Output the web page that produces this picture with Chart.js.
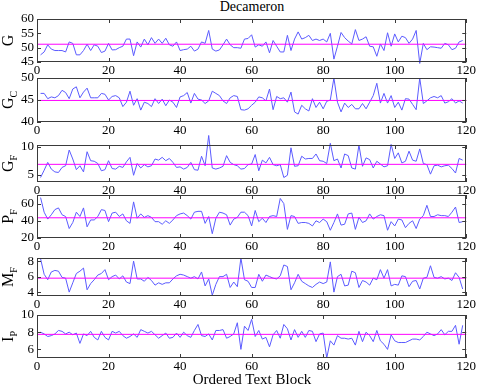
<!DOCTYPE html>
<html><head><meta charset="utf-8">
<script src="https://cdn.jsdelivr.net/npm/chart.js@4.4.0/dist/chart.umd.min.js"></script>
<style>
html,body{margin:0;padding:0;background:#fff;}
#wrap{position:relative;width:477px;height:391px;overflow:hidden;background:#fff;}
#wrap canvas{position:absolute;left:0;}
.txt{position:absolute;font-family:"Liberation Serif","Times New Roman",serif;color:#000;white-space:nowrap;transform:translateX(-50%);}
</style></head>
<body>
<div id="wrap">
<div class="txt" id="title" style="left:252px;top:-1px;font-size:14px;">Decameron</div>
<canvas id="c1"></canvas><canvas id="c2"></canvas><canvas id="c3"></canvas>
<canvas id="c4"></canvas><canvas id="c5"></canvas><canvas id="c6"></canvas>
<div class="txt" id="xtitle" style="left:252px;top:371px;font-size:15px;">Ordered Text Block</div>
</div>
<script>
const blocks = [1,2,3,4,5,6,7,8,9,10,11,12,13,14,15,16,17,18,19,20,21,22,23,24,25,26,27,28,29,30,31,32,33,34,35,36,37,38,39,40,41,42,43,44,45,46,47,48,49,50,51,52,53,54,55,56,57,58,59,60,61,62,63,64,65,66,67,68,69,70,71,72,73,74,75,76,77,78,79,80,81,82,83,84,85,86,87,88,89,90,91,92,93,94,95,96,97,98,99,100,101,102,103,104,105,106,107,108,109,110,111,112,113,114,115,116,117,118,119];
const xTickValues = [0,20,40,60,80,100,120];

const gValues = [47.5,48.5,51,49.5,49,49,49,48.5,52,51.5, 47.5,47.5,49,51.2,49,51,50.5,48.3,48.8,51.5, 49.2,49.3,50,50.5,53,53,47.2,52,50.2,53, 51,53.5,51.5,53,51.5,53.3,51,50.5,52,49, 49.3,49.5,50.5,48.8,49.5,52,51.5,56,49.5,48.8, 49.2,51,53,51,50,50,49.8,53,53.2,54.5, 50.2,51,50.5,52,48.2,52.5,50.5,48.5,48.5,54.3, 49,53,55.5,53,53.5,54.3,52.5,53,52.5,53, 52,55,46,50.5,55.3,53.5,52.3,51.3,56.3,52.5, 53,53.8,50.5,50.3,47,51.3,49,55.2,50.5,54.8, 52,54,53.5,51.5,53,56,44.5,51.5,49.3,50.3, 50.2,50,49.8,51.5,51,49.3,49.8,52,52.5];
const gcValues = [46.5,46.5,45.3,45.7,45.5,46,47.2,46.7,45.3,47.5, 48,45.5,46.8,47.7,45.5,45.5,45.5,46.5,46.3,45, 45.8,46,45.5,43.5,44.5,47,43.8,45.3,42.7,44.5, 44.2,43.5,45.3,44.2,45.2,43.7,45,44.5,43.3,45.7, 46,46.7,44.3,46.5,45.2,45,44.2,44.8,47,46.5, 46,44.8,44.2,45.5,46,45.8,42.8,42.7,43,43.8, 44.5,45.7,45.5,44.8,47.5,42.8,45.8,45.3,45.5,44.5, 46.8,42.3,41.8,43.8,43,42.5,45.3,43.3,44.5,43, 44.7,45,50,44.5,42.3,44.3,43.3,44,43,43, 44.2,43,44.5,46,48.8,44.3,46.5,44.3,46,43.3, 44.5,42.7,45.3,45.2,44,42.8,50,44.2,44.8,45.5, 45.8,45.5,46,44.3,44.6,45.3,44.3,44.8,44.3];
const gfValues = [4.5,5.8,7.2,6,5.5,5.4,6.3,6.6,9.4,7.8, 5.9,6.6,5.5,9.1,7.5,7.4,7,5.7,5.9,7.5, 6.1,6,6.5,6.3,7.3,8.1,4.9,7,6.2,6.8, 6.4,6.6,7.8,7.6,8.1,7.5,7.9,7.2,6.3,6.4, 6,6.3,7.2,5.9,5.8,8.3,6.6,12,6.2,6, 6.2,6.5,8.4,7.2,6.8,6.6,6,6.1,6.8,6.9, 8.6,5.7,7.6,7.1,8.1,6.8,6.6,6.8,4.5,4.9, 9.8,6.5,6.6,8.3,7.8,7.9,7.9,8.7,7.5,7.4, 7,10.6,7.5,7.8,6.2,8.7,8.4,6.2,6,10.3, 6.5,8,7.7,6.2,7.4,6.9,6.4,6.6,10.4,7.9, 8.9,7.1,7.4,9.2,7.6,7.4,9.6,7,6.8,5.1, 6.6,6.7,6.4,6.6,6.7,6.1,5.3,7.9,7.6];
const pfValues = [67,50,42,47,53,55,47,45,31,38, 50,45,55,33,41,41,45,53,52,39, 49,50,45,48,40,37,62,43,48,44, 46,44,39,39,36,40,37,41,46,48, 49,46,42,50,51,51,37,45,25,43, 50,49,47,35,42,44,50,50,46,34, 52,39,43,38,45,46,45,66,60,30, 46,45,37,38,38,37,34,40,38,42, 39,29,38,48,35,36,48,49,30,44, 38,40,48,42,45,47,46,29,39,34, 42,41,32,37,40,31,42,46,58,45, 45,47,46,46,45,50,56,38,39];
const mfValues = [8.3,6.3,5.6,6.6,6.8,6.7,5.9,5.8,4,5.2, 6.4,6.7,7.1,4.3,5.1,5.6,6.2,6.4,6.9,5.6, 6,6.2,5.7,6.1,5.3,5.1,8,5.7,5.7,5.4, 5.9,5.5,4.9,5.2,5,5.2,5.2,5.7,6.1,6.3, 6.2,6,5.8,6,5.7,6.6,4.8,5.7,3.6,5, 6,6,6.3,4.6,5.3,4.7,8.4,5.6,5.4,4.6, 4.6,6.3,5.4,6.2,6,5.8,5.7,6.1,7.5,7.3, 4.3,5.2,6.3,5.4,5.1,4.8,4.6,5,5.3,5.1, 5.3,7.9,4,6,6.3,4.8,4.9,6.7,6.5,4.6, 5.5,5.3,4.9,5.8,5.6,6.9,5.8,6.9,4.8,5, 4.9,6.1,6,4.7,5.4,5.5,4.4,5.8,5.9,7.4, 5.9,5.8,6,5.7,5.8,5.5,6.5,5.9,4.4];
const ipValues = [8,7.8,7.5,7.6,7.8,8.2,8.1,7.8,8,7.7, 7.9,6.7,7.8,7.6,8.1,7.4,7.1,8.1,7.4,7.1, 8.1,7.9,8.1,7.6,7.3,7.5,7.8,7.4,8.3,8.1, 7.9,8.1,7.7,7.3,7.6,7.9,7.3,7.4,7.9,7.4, 8,7.6,7.4,8.2,8.9,7.6,7.5,7.8,7.1,8.2, 8.2,8.3,7.3,7.5,7.8,9.1,6,8.7,8.2,9.5, 7.5,8.2,7.2,7.4,6.3,7.7,8.2,7.3,8.9,8.4, 7.1,8.3,7.4,8.1,7.4,8.2,8.1,6.9,7.8,7.9, 5,7,6.5,7.6,7.3,7.3,7.2,7.3,6.5,8.1, 6.9,8,7.6,6.9,8.2,7,6.6,6,7.7,7, 6.8,6.8,6.8,7,7.2,7.2,7.1,7.5,8,7.8, 7.6,7.8,8.3,7.7,8.1,8.1,8.8,6.6,8.8];

const means = {g:51.2, gc:44.9, gf:6.85, pf:43.5, mf:5.8, ip:7.75};

const panels = [
  {id:'c1', values:gValues, mean:means.g,  min:45, max:60,  yticks:[45,50,55,60], label:'G', sub:'',  top:19,  bottom:62},
  {id:'c2', values:gcValues,mean:means.gc, min:40, max:50,  yticks:[40,45,50],    label:'G', sub:'C', top:78,  bottom:122},
  {id:'c3', values:gfValues,mean:means.gf, min:3.7,max:10.3,yticks:[5,10],        label:'G', sub:'F', top:145, bottom:182},
  {id:'c4', values:pfValues,mean:means.pf, min:20, max:70,  yticks:[20,40,60],    label:'P', sub:'F', top:195, bottom:238},
  {id:'c5', values:mfValues,mean:means.mf, min:3.5,max:8.4, yticks:[4,6,8],       label:'M', sub:'F', top:258, bottom:296},
  {id:'c6', values:ipValues,mean:means.ip, min:5,  max:10,  yticks:[6,8,10],      label:'I', sub:'P', top:315, bottom:358}
];

const FONT = '"Liberation Serif", "Times New Roman", serif';
const PAD_TOP = 12, X_H = 17;

const frame = {
  id:'frame',
  afterDraw(chart, args, opts){
    const {ctx, chartArea:a, scales} = chart;
    ctx.save();
    ctx.strokeStyle = '#3a3a3a';
    ctx.lineWidth = 1;
    ctx.strokeRect(Math.round(a.left)+0.5, Math.round(a.top)+0.5, Math.round(a.right-a.left)-1, Math.round(a.bottom-a.top)-1);
    ctx.beginPath();
    const tl = 4;
    opts.yticks.forEach(v=>{
      const y = Math.round(scales.y.getPixelForValue(v))+0.5;
      ctx.moveTo(a.left, y); ctx.lineTo(a.left+tl, y);
      ctx.moveTo(a.right, y); ctx.lineTo(a.right-tl, y);
    });
    xTickValues.forEach(v=>{
      const x = Math.round(scales.x.getPixelForValue(v))+0.5;
      ctx.moveTo(x, a.bottom); ctx.lineTo(x, a.bottom-tl);
      ctx.moveTo(x, a.top); ctx.lineTo(x, a.top+tl);
    });
    ctx.stroke();
    // y label with subscript
    ctx.fillStyle = '#000';
    ctx.translate(9, (a.top+a.bottom)/2);
    ctx.rotate(-Math.PI/2);
    ctx.textBaseline = 'middle';
    ctx.font = '16px ' + FONT;
    const w1 = ctx.measureText(opts.label).width;
    ctx.font = '10px ' + FONT;
    const w2 = opts.sub ? ctx.measureText(opts.sub).width : 0;
    const start = -(w1 + w2)/2;
    ctx.font = '16px ' + FONT;
    ctx.textAlign = 'left';
    ctx.fillText(opts.label, start, 0);
    if (opts.sub){
      ctx.font = '10px ' + FONT;
      ctx.fillText(opts.sub, start + w1, 5);
    }
    ctx.restore();
  }
};

panels.forEach(p=>{
  const cv = document.getElementById(p.id);
  const h = (p.bottom - p.top) + PAD_TOP + X_H;
  cv.width = 477; cv.height = h;
  cv.style.top = (p.top - PAD_TOP) + 'px';
  cv.style.width = '477px'; cv.style.height = h + 'px';
  new Chart(cv, {
    type:'line',
    data:{datasets:[
      {data:[{x:0,y:p.mean},{x:120,y:p.mean}], borderColor:'#ff00ff', borderWidth:1, pointRadius:0, tension:0, clip:false},
      {data:blocks.map((b,i)=>({x:b,y:p.values[i]})), borderColor:'#5b5bff', borderWidth:1, pointRadius:0, tension:0, clip:false}
    ]},
    options:{
      animation:false, responsive:false, devicePixelRatio:1, events:[],
      layout:{padding:{top:PAD_TOP, right:10, left:0, bottom:0}},
      plugins:{legend:{display:false}, tooltip:{enabled:false}, title:{display:false},
        frame:{yticks:p.yticks, label:p.label, sub:p.sub}},
      scales:{
        x:{type:'linear', min:0, max:120,
           afterBuildTicks:s=>{s.ticks = xTickValues.map(v=>({value:v}));},
           afterFit:s=>{s.height = X_H;},
           grid:{display:false, drawTicks:false}, border:{display:false},
           ticks:{color:'#000', font:{family:FONT, size:13}, padding:1, maxRotation:0, autoSkip:false}},
        y:{type:'linear', min:p.min, max:p.max,
           afterBuildTicks:s=>{s.ticks = p.yticks.map(v=>({value:v}));},
           afterFit:s=>{s.width = 37;},
           grid:{display:false, drawTicks:false}, border:{display:false},
           ticks:{color:'#000', font:{family:FONT, size:13}, padding:3, autoSkip:false}}
      }
    },
    plugins:[frame]
  });
});
</script>
</body></html>
